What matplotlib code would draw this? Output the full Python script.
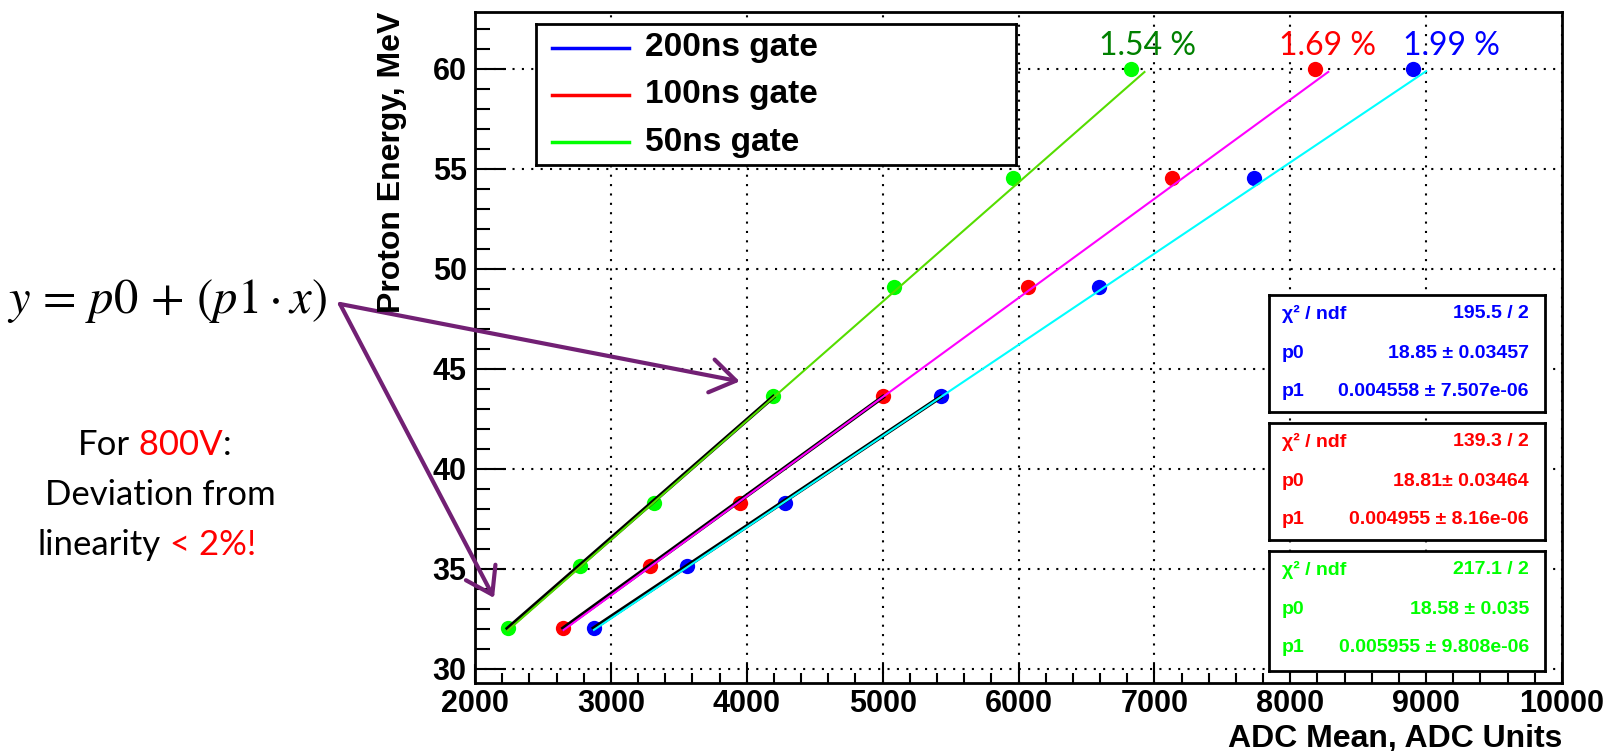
import numpy as np
import matplotlib.pyplot as plt

# proton energy steps (MeV) and mean ADC for each gate width
energy = [32.07, 35.17, 38.3, 43.65, 49.1, 54.53, 60.0]
adc_200 = [2875, 3560, 4285, 5426, 6590, 7733, 8900]
adc_100 = [2651, 3285, 3948, 5002, 6068, 7130, 8180]
adc_50 = [2241, 2772, 3319, 4195, 5083, 5958, 6827]

gates = ["200ns gate", "100ns gate", "50ns gate"]
p0 = [18.85, 18.81, 18.58]
p1 = [0.004558, 0.004955, 0.005955]
chi2 = ["195.5 / 2", "139.3 / 2", "217.1 / 2"]
p0_txt = ["18.85 ± 0.03457", "18.81± 0.03464", "18.58 ± 0.035"]
p1_txt = ["0.004558 ± 7.507e-06", "0.004955 ± 8.16e-06", "0.005955 ± 9.808e-06"]
deviation = ["1.99 %", "1.69 %", "1.54 %"]

xticks = list(range(2000, 10001, 1000))
yticks = list(range(30, 61, 5))

point_colors = ["#0000ff", "#ff0000", "#00ff00"]
fit_colors = ["#00ffff", "#ff00ff", "#55dd00"]
dev_colors = ["#0000ff", "#ff0000", "#008000"]

plt.rcParams['font.family'] = ['Liberation Sans', 'DejaVu Sans']

W, H = 1612, 751
fig = plt.figure(figsize=(W / 100, H / 100), dpi=100)
ax = fig.add_axes([475 / W, 1 - 683 / H, 1087 / W, 671 / H])

ax.set_xlim(2000, 10000)
ax.set_ylim(29.3, 62.83)
ax.set_xticks(xticks, [str(v) for v in xticks], fontweight='bold')
ax.set_xticks(range(2000, 10001, 200), minor=True)
ax.set_yticks(yticks, [str(v) for v in yticks], fontweight='bold')
ax.set_yticks(range(30, 63), minor=True)
ax.grid(True, which='major', color='black', linestyle=(0, (1, 3.5)), lw=1.5)
ax.set_axisbelow(True)
ax.tick_params(axis='both', which='both', direction='in', width=1.5, labelsize=22)
ax.tick_params(axis='x', which='major', length=14, pad=4)
ax.tick_params(axis='x', which='minor', length=7)
ax.tick_params(axis='y', which='major', length=22, pad=6)
ax.tick_params(axis='y', which='minor', length=11)
for s in ax.spines.values():
    s.set_linewidth(2)

series = [adc_200, adc_100, adc_50]
for adc, pc, fc, a, b in zip(series, point_colors, fit_colors, p0, p1):
    ax.plot(adc, energy, 'o', color=pc, ms=11, mec='none', zorder=3)
    # fit over the first four points, drawn in black beneath
    k, c = np.polyfit(adc[:4], energy[:4], 1)
    xs = np.array([adc[0], adc[3]])
    ax.plot(xs, c + k * xs, color='black', lw=3, zorder=4)
    # full linear fit p0 + p1*x
    xf = np.array([adc[0], adc[-1] + 100])
    ax.plot(xf, a + b * xf, color=fc, lw=1.5, zorder=5)

for adc, txt, col, dx in zip(series, deviation, dev_colors, [28, 9, 12]):
    ax.annotate(txt, xy=(adc[-1], energy[-1]), xytext=(dx, 16), textcoords='offset points',
                ha='center', va='center', fontsize=23, color=col, family=['Lato', 'DejaVu Sans'])

fig.text(1562 / W, 1 - 739 / H, "ADC Mean, ADC Units", ha='right', va='center',
         fontsize=23, fontweight='bold')
fig.text(392 / W, 1 - 12 / H, "Proton Energy, MeV", rotation=90, ha='center', va='top',
         fontsize=23, fontweight='bold')

# legend box
lg = fig.add_axes([536 / W, 1 - 165 / H, 480 / W, 141 / H])
lg.set_xlim(0, 480)
lg.set_ylim(141, 0)
lg.set_xticks([])
lg.set_yticks([])
for s in lg.spines.values():
    s.set_linewidth(2)
for i, (g, pc) in enumerate(zip(gates, point_colors)):
    y = 23.7 + 47.2 * i
    lg.plot([16, 93], [y, y], color=pc, lw=2.5)
    lg.text(109, y, g, va='center', fontsize=24, fontweight='bold')

# fit statistics boxes
for i, (pc, c2, t0, t1) in enumerate(zip(point_colors, chi2, p0_txt, p1_txt)):
    top = [295, 423, 551][i]
    h = [117, 117, 120][i]
    bx = fig.add_axes([1269 / W, 1 - (top + h) / H, 276 / W, h / H])
    bx.set_xlim(0, 276)
    bx.set_ylim(h, 0)
    bx.set_xticks([])
    bx.set_yticks([])
    for s in bx.spines.values():
        s.set_linewidth(2)
    for j, (name, val) in enumerate(zip(["χ² / ndf", "p0", "p1"], [c2, t0, t1])):
        y = 19 + 39 * j
        bx.text(13, y, name, color=pc, va='center', fontsize=14, fontweight='bold')
        bx.text(260, y, val, color=pc, va='center', ha='right', fontsize=14, fontweight='bold')

# slide annotations on the left
fig.text(167 / W, 1 - 313 / H, r'$y\,=\,p0\,+\,(p1 \cdot x)$', ha='center', va='baseline',
         fontsize=35, math_fontfamily='stix')

body = dict(fontsize=25, family=['Lato', 'DejaVu Sans'])
t = fig.text(78 / W, 1 - 455 / H, "For", va='baseline', **body)
t = ax.annotate(" 800V", xy=(1, 0), xycoords=t, va='bottom', color='red', annotation_clip=False, **body)
ax.annotate(":", xy=(1, 0), xycoords=t, va='bottom', annotation_clip=False, **body)
fig.text(160 / W, 1 - 505 / H, "Deviation from", ha='center', va='baseline', **body)
t = fig.text(38 / W, 1 - 555 / H, "linearity", va='baseline', **body)
ax.annotate(" < 2%!", xy=(1, 0), xycoords=t, va='bottom', color='red', annotation_clip=False, **body)

arrow = dict(arrowstyle='->,head_length=0.6,head_width=0.4', color='#722074', lw=3,
             mutation_scale=30, shrinkA=0, shrinkB=0)
ax.annotate('', xy=(3948, 44.37), xytext=(340, H - 304), textcoords='figure pixels',
            arrowprops=arrow, annotation_clip=False)
ax.annotate('', xy=(2140, 33.55), xytext=(340, H - 304), textcoords='figure pixels',
            arrowprops=arrow, annotation_clip=False)

fig.savefig('out.png', dpi=100)
